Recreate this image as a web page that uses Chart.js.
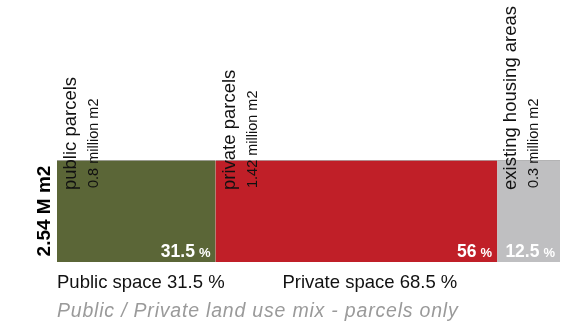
<!DOCTYPE html>
<html>
<head>
<meta charset="utf-8">
<script src="https://cdn.jsdelivr.net/npm/chart.js@4.4.0/dist/chart.umd.min.js"></script>
<style>
  html, body { margin: 0; padding: 0; background: #fff; }
  #wrap { width: 563px; height: 326px; }
</style>
</head>
<body>
<div id="wrap"><canvas id="c"></canvas></div>
<script>
// land use parcels, share of total area
const categories = ['public parcels', 'private parcels', 'existing housing areas'];
const areas = ['0.8', '1.42', '0.3']; // million m2
const shares = [31.5, 56, 12.5];
const colors = ['#5b6637', '#c01f28', '#bfbfc1'];
const totalLabel = '2.54 M m2';
const groupLabels = ['Public space 31.5 %', 'Private space 68.5 %'];
const groupStarts = [0, 31.5];
const caption = 'Public / Private land use mix - parcels only';

const FONT = 'Arial, "Liberation Sans", Helvetica, sans-serif';

// draws the rotated category labels, % values and the text around the bar
const labelsPlugin = {
  id: 'labels',
  afterDatasetsDraw(chart) {
    const ctx = chart.ctx;
    const x = chart.scales.x;
    const area = chart.chartArea;
    ctx.save();

    let start = 0;
    shares.forEach((v, i) => {
      const left = x.getPixelForValue(start);
      const right = x.getPixelForValue(start + v);
      start += v;

      // rotated names above the bar
      ctx.save();
      ctx.translate(left + 5, 190);
      ctx.rotate(-Math.PI / 2);
      ctx.fillStyle = '#111';
      ctx.textAlign = 'left';
      ctx.textBaseline = 'top';
      ctx.font = '18.5px ' + FONT;
      ctx.fillText(categories[i], 0, 0);
      ctx.font = '14.5px ' + FONT;
      ctx.fillText(areas[i] + ' million m2', 2, 25);
      ctx.restore();

      // percentage at bottom right of each segment
      ctx.fillStyle = '#fff';
      ctx.textBaseline = 'alphabetic';
      ctx.textAlign = 'right';
      ctx.font = 'bold 13px ' + FONT;
      const pw = ctx.measureText('%').width;
      ctx.fillText('%', right - 5, area.bottom - 5);
      ctx.font = 'bold 17.5px ' + FONT;
      ctx.fillText(String(v), right - 5 - pw - 4, area.bottom - 5);
    });

    // total on the left
    ctx.save();
    ctx.translate(50, (area.top + area.bottom) / 2);
    ctx.rotate(-Math.PI / 2);
    ctx.fillStyle = '#000';
    ctx.font = 'bold 19px ' + FONT;
    ctx.textAlign = 'center';
    ctx.textBaseline = 'alphabetic';
    ctx.fillText(totalLabel, 0, 0);
    ctx.restore();

    // public / private totals
    ctx.fillStyle = '#111';
    ctx.font = '18.5px ' + FONT;
    ctx.textAlign = 'left';
    ctx.fillText(groupLabels[0], x.getPixelForValue(groupStarts[0]), 288);
    ctx.fillText(groupLabels[1], x.getPixelForValue(groupStarts[1]) + 67, 288);

    // caption
    ctx.fillStyle = '#9a9a9a';
    ctx.font = 'italic 19.5px ' + FONT;
    ctx.letterSpacing = '0.8px';
    ctx.fillText(caption, x.getPixelForValue(0), 317);
    ctx.letterSpacing = '0px';

    ctx.restore();
  }
};

new Chart(document.getElementById('c'), {
  type: 'bar',
  data: {
    labels: [''],
    datasets: categories.map((c, i) => ({
      label: c,
      data: [shares[i]],
      backgroundColor: colors[i],
      borderColor: 'rgba(120,120,120,0.6)',
      borderWidth: { top: 1, bottom: 0, left: 0, right: 0 },
      borderSkipped: false,
      barPercentage: 1,
      categoryPercentage: 1
    }))
  },
  options: {
    indexAxis: 'y',
    responsive: true,
    maintainAspectRatio: false,
    animation: false,
    layout: { padding: { left: 57, right: 3, top: 160, bottom: 64 } },
    plugins: {
      legend: { display: false },
      tooltip: { enabled: false },
      title: { display: false }
    },
    scales: {
      x: { stacked: true, min: 0, max: 100, display: false },
      y: { stacked: true, display: false }
    }
  },
  plugins: [labelsPlugin]
});
</script>
</body>
</html>
